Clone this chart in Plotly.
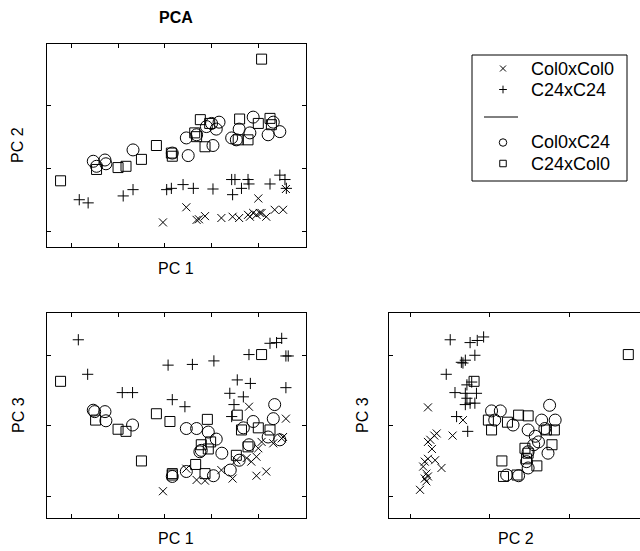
import plotly.graph_objects as go

# ---------------- Panel A: PC 1 vs PC 2 ----------------
a_col0col0_pc1 = [-0.4, 4.6, 6.8, 7.3, 8.6, 12.1, 14.5, 15.9, 17.8, 18.9, 19.6, 20.3, 20.7, 21.7, 20.0, 23.5, 25.3, 25.9, 18.2]
a_col0col0_pc2 = [-8.5, -6.1, -8.1, -8.0, -7.5, -7.8, -7.6, -7.8, -7.3, -7.0, -7.3, -7.0, -7.0, -7.6, -4.7, -6.5, -6.5, -3.2, -7.6]
a_c24c24_pc1 = [-18.3, -16.4, -8.9, -6.8, 0.4, 1.4, 3.9, 6.1, 10.3, 14.3, 15.0, 14.5, 16.4, 17.8, 18.0, 22.5, 24.6, 25.7, 26.0]
a_c24c24_pc2 = [-4.9, -5.4, -4.3, -3.3, -3.3, -3.1, -2.5, -3.1, -3.2, -1.7, -1.7, -4.1, -3.1, -1.7, -2.4, -2.4, -1.0, -1.7, -3.1]
a_col0c24_pc1 = [-15.3, -12.8, -14.6, -12.6, -6.8, 1.6, 4.6, 5.0, 6.8, 8.9, 10.0, 11.6, 11.0, 10.3, 14.3, 15.9, 15.3, 18.2, 18.9, 22.1, 23.2, 24.6]
a_col0c24_pc2 = [1.2, 1.4, 0.4, 0.8, 3.0, 2.5, 4.9, 2.1, 5.4, 6.7, 7.2, 7.4, 6.3, 3.7, 4.9, 6.3, 4.6, 5.7, 8.2, 5.4, 7.4, 5.9]
a_c24col0_pc1 = [20.7, -22.3, -14.6, -10.0, -8.3, -5.0, -1.8, 1.4, 1.6, 6.4, 7.6, 6.8, 8.6, 9.6, 16.0, 15.7, 17.8, 20.0, 22.5, 22.8]
a_c24col0_pc2 = [17.4, -1.9, -0.1, 0.2, 0.4, 1.5, 3.7, 2.5, 2.0, 5.7, 7.8, 5.1, 3.5, 7.2, 7.9, 4.6, 4.6, 7.2, 8.0, 7.0]

# ---------------- Panel B: PC 1 vs PC 3 ----------------
b_col0col0_pc1 = [-0.4, 4.6, 6.8, 8.6, 12.1, 14.5, 15.3, 18.0, 25.9, 17.5, 19.6, 20.0, 20.7, 19.6, 21.7, 25.0, 25.3, 23.2, 18.5]
b_col0col0_pc3 = [-9.3, -6.1, -7.7, -7.8, -6.3, -7.5, -4.9, 2.7, 1.0, -4.6, -4.4, -3.2, -2.3, -7.1, -6.5, -1.8, -1.6, -2.5, -5.1]
b_c24c24_pc1 = [-18.5, -16.5, -9.1, -6.9, 0.7, 5.9, 10.5, 1.6, 4.3, 15.5, 18.3, 13.9, 16.8, 14.8, 14.3, 18.0, 22.5, 23.9, 25.0, 25.9, 26.4, 25.9]
b_c24c24_pc3 = [12.2, 7.3, 4.7, 4.7, 8.6, 8.7, 9.2, 3.7, 2.7, 6.5, 6.0, 4.6, 4.1, 3.0, 1.3, 10.1, 11.7, 11.8, 12.4, 9.9, 9.9, 5.4]
b_col0c24_pc1 = [-15.3, -15.0, -12.8, -12.6, -6.9, 4.6, 6.8, 9.3, 11.0, 12.2, 7.8, 7.5, 4.6, 1.6, 10.4, 14.0, 15.9, 18.0, 18.9, 23.2, 23.5, 22.1, 24.6, 16.8]
b_col0c24_pc3 = [2.2, 2.0, 2.0, 0.7, 0.1, -0.4, -0.4, -0.9, -1.9, -3.9, -3.5, -3.7, -6.5, -7.2, -7.1, -6.3, -4.9, -2.7, 0.6, 1.0, 3.0, -1.6, -2.0, -0.3]
b_c24col0_pc1 = [-22.3, -14.8, -10.0, -8.3, -1.8, 1.1, -5.0, 1.6, 1.6, 9.1, 7.8, 9.8, 9.3, 6.6, 8.6, 15.5, 16.4, 20.0, 22.5, 17.8, 15.3, 20.7]
b_c24col0_pc3 = [6.3, 0.8, -0.5, -0.8, 1.7, 0.6, -5.0, -6.8, -7.0, 0.9, -2.7, -2.3, -3.3, -5.5, -6.8, 1.5, -0.6, -0.3, -0.6, -3.0, -4.2, 10.1]

# ---------------- Panel C: PC 2 vs PC 3 ----------------
c_col0col0_pc2 = [-7.8, -4.7, -3.4, -6.7, -7.0, -7.5, -7.8, -7.3, -7.8, -8.2, -8.4, -6.9, -6.1, -8.0, -7.8, -8.2, -8.8, -8.0]
c_col0col0_pc3 = [2.6, -1.4, 0.8, -1.1, -1.4, -2.0, -2.3, -3.3, -4.7, -5.1, -5.8, -4.9, -6.0, -6.8, -7.2, -7.5, -9.1, -7.9]
c_c24c24_pc2 = [-5.0, -2.5, -1.6, -0.8, -1.9, -3.1, -3.4, -3.6, -5.5, -2.3, -2.9, -4.4, -3.1, -1.7, -2.9, -2.5, -3.1, -4.2, -2.8, -1.9]
c_c24c24_pc3 = [12.2, 11.8, 12.1, 12.6, 10.0, 9.3, 8.9, 9.0, 7.3, 6.2, 5.8, 4.7, 4.6, 4.6, 3.9, 3.2, 3.0, 1.3, -0.8, 3.2]
c_col0c24_pc2 = [0.2, 1.3, 0.6, 2.9, 4.8, 6.5, 7.5, 8.2, 5.7, 6.1, 5.5, 4.8, 4.6, 7.3, 2.1, 3.6, 4.8, 6.9]
c_col0c24_pc3 = [2.1, 2.1, 0.8, 0.1, -0.6, 0.8, 2.9, 0.8, -1.5, -2.3, -2.7, -3.7, -5.1, -3.9, -7.0, -7.1, -6.0, -0.4]
c_c24col0_pc2 = [17.4, -2.0, -0.2, 0.2, 3.6, 4.8, 2.2, 7.1, 8.1, 7.8, 4.4, 4.6, 5.9, 1.5, 1.7, 3.4, 4.8]
c_c24col0_pc3 = [10.1, 6.3, 0.8, -0.6, 1.5, 1.4, 0.5, -0.6, -0.6, -2.7, -3.2, -4.7, -5.7, -5.0, -7.2, -7.0, -3.9]

group_names = ["Col0xCol0", "C24xC24", "Col0xC24", "C24xCol0"]
tick_pc1 = [-20, -10, 0, 10, 20]
tick_pc2 = [-10, 0, 10]
tick_pc3 = [-10, 0, 10]

FONT = "Liberation Sans, Arial, sans-serif"
W, H = 640, 551

def px_x(p):
    return p / W

def px_y(p):
    return 1 - p / H

styles = {
    "Col0xCol0": dict(symbol="x-thin-open", size=8),
    "C24xC24": dict(symbol="cross-thin-open", size=8),
    "Col0xC24": dict(symbol="circle-open", size=12),
    "C24xCol0": dict(symbol="square-open", size=10),
}

fig = go.Figure()

panels = [
    ("x", "y", [(a_col0col0_pc1, a_col0col0_pc2), (a_c24c24_pc1, a_c24c24_pc2),
                (a_col0c24_pc1, a_col0c24_pc2), (a_c24col0_pc1, a_c24col0_pc2)]),
    ("x2", "y2", [(b_col0col0_pc1, b_col0col0_pc3), (b_c24c24_pc1, b_c24c24_pc3),
                  (b_col0c24_pc1, b_col0c24_pc3), (b_c24col0_pc1, b_c24col0_pc3)]),
    ("x3", "y3", [(c_col0col0_pc2, c_col0col0_pc3), (c_c24c24_pc2, c_c24c24_pc3),
                  (c_col0c24_pc2, c_col0c24_pc3), (c_c24col0_pc2, c_c24col0_pc3)]),
]

for xa, ya, groups in panels:
    for name, (xs, ys) in zip(group_names, groups):
        st = styles[name]
        fig.add_trace(go.Scatter(
            x=xs, y=ys, mode="markers", name=name, showlegend=False,
            xaxis=xa, yaxis=ya,
            marker=dict(symbol=st["symbol"], size=st["size"], color="black",
                        line=dict(color="black", width=1)),
        ))

# legend symbols on an invisible axis
leg_sizes = {"Col0xCol0": 6, "C24xC24": 5.5, "Col0xC24": 7.5, "C24xCol0": 6.5}
leg_rows = [68.5, 89.5, 142.5, 163.5]
for name, row in zip(group_names, leg_rows):
    st = styles[name]
    fig.add_trace(go.Scatter(
        x=[0], y=[row], mode="markers", showlegend=False, xaxis="x4", yaxis="y4",
        marker=dict(symbol=st["symbol"], size=leg_sizes[name], color="black",
                    line=dict(color="black", width=1)),
        hoverinfo="skip",
    ))

axis_common = dict(showgrid=False, zeroline=False, showticklabels=False,
                   ticks="inside", ticklen=4, tickwidth=1, tickcolor="black",
                   showline=True, linecolor="black", linewidth=1)

dom_x_left = [px_x(47), px_x(306)]
dom_x_right = [px_x(389), 1.0]
dom_y_top = [px_y(247), px_y(44)]
dom_y_bot = [px_y(518), px_y(313)]

fig.update_layout(
    width=W, height=H, autosize=False,
    margin=dict(l=0, r=0, t=0, b=0),
    paper_bgcolor="white", plot_bgcolor="white",
    font=dict(family=FONT, size=16, color="black"),
    xaxis=dict(domain=dom_x_left, range=[-25.2, 30.2], tickvals=tick_pc1, mirror="allticks", anchor="y", **axis_common),
    yaxis=dict(domain=dom_y_top, range=[-12.4, 19.8], tickvals=tick_pc2, mirror="allticks", anchor="x", **axis_common),
    xaxis2=dict(domain=dom_x_left, range=[-25.2, 30.2], tickvals=tick_pc1, mirror="allticks", anchor="y2", **axis_common),
    yaxis2=dict(domain=dom_y_bot, range=[-13.1, 16.0], tickvals=tick_pc3, mirror="allticks", anchor="x2", **axis_common),
    xaxis3=dict(domain=dom_x_right, range=[-12.7, 18.87], tickvals=tick_pc2, mirror="allticks", anchor="y3", **axis_common),
    yaxis3=dict(domain=dom_y_bot, range=[-13.1, 16.0], tickvals=tick_pc3, mirror=False, anchor="x3", **axis_common),
    # legend symbol column: y range in pixel rows of the figure
    xaxis4=dict(domain=[px_x(488), px_x(518)], range=[-1, 1], visible=False, anchor="y4"),
    yaxis4=dict(domain=[px_y(181), px_y(55)], range=[181, 55], visible=False, anchor="x4"),
)

# legend box and separator line
fig.add_shape(type="rect", xref="paper", yref="paper",
              x0=px_x(472), x1=px_x(627), y0=px_y(181), y1=px_y(55),
              line=dict(color="black", width=1), fillcolor="rgba(0,0,0,0)")
fig.add_shape(type="line", xref="paper", yref="paper",
              x0=px_x(484), x1=px_x(518), y0=px_y(117), y1=px_y(117),
              line=dict(color="black", width=1))

anns = []
for name, yy in zip(group_names, leg_rows):
    anns.append(dict(text=name, x=px_x(529), y=px_y(yy), xref="paper", yref="paper",
                     xanchor="left", yanchor="middle", showarrow=False,
                     font=dict(size=18)))

anns += [
    dict(text="<b>PCA</b>", x=px_x(176), y=px_y(18), xanchor="center", yanchor="middle"),
    dict(text="PC 1", x=px_x(176), y=px_y(268), xanchor="center", yanchor="middle"),
    dict(text="PC 2", x=px_x(18), y=px_y(145), xanchor="center", yanchor="middle", textangle=-90),
    dict(text="PC 1", x=px_x(176), y=px_y(538), xanchor="center", yanchor="middle"),
    dict(text="PC 3", x=px_x(18), y=px_y(415), xanchor="center", yanchor="middle", textangle=-90),
    dict(text="PC 2", x=px_x(516), y=px_y(538), xanchor="center", yanchor="middle"),
    dict(text="PC 3", x=px_x(362), y=px_y(415), xanchor="center", yanchor="middle", textangle=-90),
]
for a in anns:
    a.setdefault("xref", "paper")
    a.setdefault("yref", "paper")
    a.setdefault("showarrow", False)
fig.update_layout(annotations=anns)

fig.write_html("out.html")
